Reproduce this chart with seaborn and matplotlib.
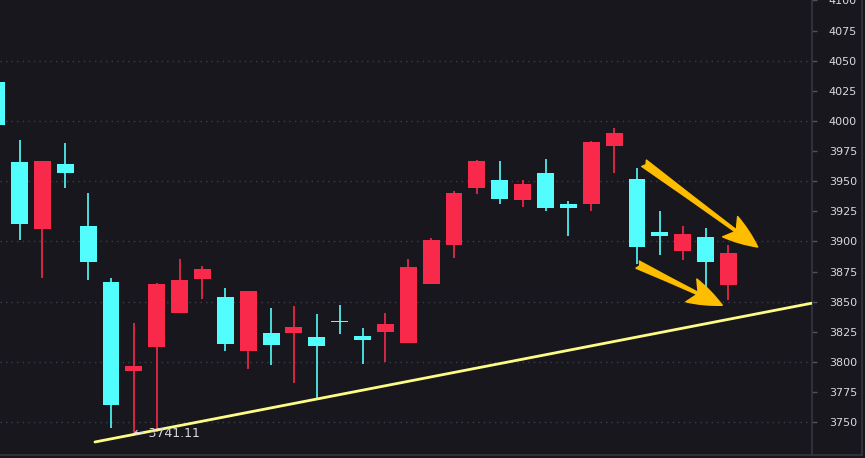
import numpy as np
import pandas as pd
import seaborn as sns
import matplotlib as mat

mat.use("Agg")

import matplotlib.pyplot as plt
from matplotlib.ticker import FixedLocator, FormatStrFormatter
from matplotlib.lines import Line2D


# candles, oldest first (red = close above open, cyan = close below open)
abertura = [4032, 3966, 3910, 3964, 3912.5, 3866, 3792.5, 3812.4, 3840.5, 3868.6,
            3854, 3809.3, 3824, 3824.2, 3820.6, 3833.8, 3821.4, 3824.6, 3815.7, 3864.7,
            3896.8, 3944, 3951.4, 3934, 3957.2, 3930.7, 3930.7, 3979.6, 3952.2, 3907.5,
            3891.8, 3903.4, 3863.7]
maxima = [4036, 3984, 3967.1, 3982, 3940.6, 3869.5, 3832.2, 3865.3, 3885.2, 3879.6,
          3861.3, 3858.9, 3844.6, 3846.3, 3839.7, 3847.1, 3828.1, 3840.3, 3885.2, 3902.6,
          3941.5, 3968, 3967.1, 3951.4, 3968.8, 3933.2, 3983.7, 3994.5, 3961.3, 3925.7,
          3912.5, 3910.8, 3896.8]
minima = [3994, 3901.2, 3869.7, 3944.2, 3868, 3745.5, 3741.11, 3742, 3840.5, 3852.3,
          3809.3, 3794.4, 3797.7, 3782.8, 3769, 3823.3, 3798.5, 3800.2, 3815.7, 3864.7,
          3886, 3939, 3930.7, 3928.2, 3924.9, 3904.3, 3924.9, 3956.4, 3881, 3888.5,
          3884.4, 3862, 3851.2]
fechamento = [3997, 3914.4, 3967.1, 3956.4, 3882.7, 3764.4, 3796.6, 3864.5, 3867.8, 3876.9,
              3815.1, 3858.9, 3814.2, 3828.8, 3813.1, 3833.4, 3818.3, 3831.2, 3878.6, 3900.9,
              3940.6, 3967.1, 3934.9, 3947.3, 3927.4, 3927.4, 3982.9, 3990.3, 3895.1, 3904.2,
              3905.9, 3882.7, 3890.2]

minimo_destaque = 3741.11
minimo_indice = 6

# price ticks on the right axis; dotted grid only on the round ones
precos_rotulo = list(range(3750, 4101, 25))
precos_grade = list(range(3750, 4051, 50))

# support trend line and the two drawn arrows (candle index, price)
tendencia_x = [4.30, 35.64]
tendencia_y = [3733.7, 3848.8]
seta_inicio = [(28.31, 3964.9), (28.03, 3880.8)]
seta_fim = [(33.28, 3895.4), (31.73, 3847.1)]

FUNDO = "#18171d"
CIANO = "#52fdfd"
VERMELHO = "#f8294a"
TEXTO = "#d8d8dc"
LINHA = "#34363f"


def carregar_dados() -> pd.DataFrame:
    df = pd.DataFrame({
        "open": abertura,
        "high": maxima,
        "low": minima,
        "close": fechamento,
    })
    df["idx"] = np.arange(len(df))
    df["sobe"] = df["close"] >= df["open"]
    df["cor"] = np.where(df["sobe"], VERMELHO, CIANO)
    df.loc[15, "cor"] = CIANO
    return df


def desenhar(df: pd.DataFrame) -> None:
    fig = plt.figure(figsize=(8.65, 4.58), dpi=100, facecolor=FUNDO)
    ax = fig.add_axes([0, 3 / 458, 811.7 / 865, 455 / 458])
    ax.set_facecolor(FUNDO)

    # wicks and bodies
    ax.vlines(df["idx"], df["low"], df["high"], colors=df["cor"], linewidth=1.2, zorder=2)
    base = np.minimum(df["open"], df["close"])
    altura = np.maximum((df["close"] - df["open"]).abs(), 1.0)
    ax.bar(df["idx"], altura, bottom=base, width=0.74, color=df["cor"], linewidth=0, zorder=3)

    sns.lineplot(x=tendencia_x, y=tendencia_y, ax=ax, color="#fdfd86", linewidth=2, zorder=4)

    for ini, fim in zip(seta_inicio, seta_fim):
        ax.annotate(
            "", xy=fim, xytext=ini,
            arrowprops=dict(
                arrowstyle="fancy,head_length=0.95,head_width=0.7,tail_width=0.22",
                color="#ffbd00", shrinkA=0, shrinkB=0, mutation_scale=26,
            ),
            zorder=5,
        )

    ax.text(minimo_indice, minimo_destaque, "\u2190 " + f"{minimo_destaque:.2f}",
            color=TEXTO, fontsize=9, ha="left", va="center", zorder=6)

    ax.set_xlim(0.147, 35.64)
    ax.set_ylim(3722.9, 4100.3)

    ax.yaxis.tick_right()
    ax.yaxis.set_major_locator(FixedLocator(precos_rotulo))
    ax.yaxis.set_major_formatter(FormatStrFormatter("%d"))
    ax.tick_params(axis="y", which="both", length=3.6, width=1, color="#50535e",
                   labelcolor=TEXTO, labelsize=8, pad=8.8)
    ax.set_xticks([])
    ax.grid(False)
    ax.hlines(precos_grade, 0.147, 35.64, colors="#3c3d48", linestyles=(0, (1, 3)),
              linewidth=1, zorder=1)

    for lado in ["top", "left"]:
        ax.spines[lado].set_visible(False)
    ax.spines["right"].set_color(LINHA)
    ax.spines["bottom"].set_color(LINHA)
    ax.spines["right"].set_linewidth(1.2)
    ax.spines["bottom"].set_linewidth(1.2)

    fig.add_artist(Line2D([811 / 865, 862 / 865], [3 / 458, 3 / 458], color=LINHA, linewidth=1.2))
    fig.add_artist(Line2D([862 / 865, 862 / 865], [3 / 458, 1], color=LINHA, linewidth=1.2))

    fig.savefig("out.png", dpi=100, facecolor=FUNDO)
    plt.close(fig)


def main() -> None:
    sns.set_theme(style="dark")
    plt.rcParams["font.family"] = ["DejaVu Sans"]
    df = carregar_dados()
    desenhar(df)


if __name__ == "__main__":
    main()
